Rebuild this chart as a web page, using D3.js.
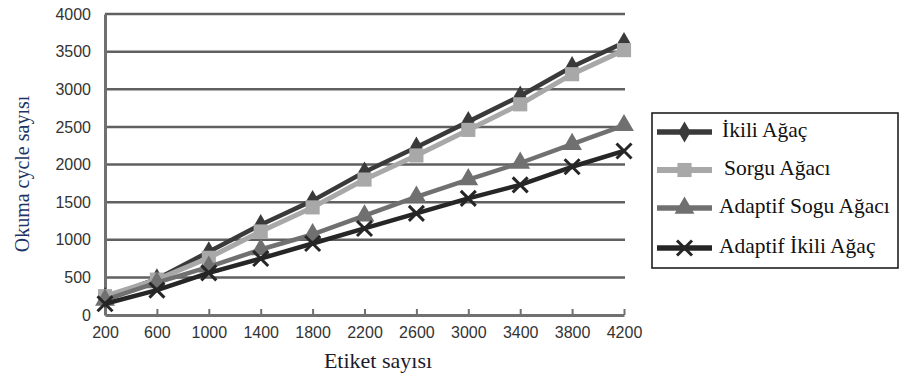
<!DOCTYPE html>
<html>
<head>
<meta charset="utf-8">
<script src="https://cdn.jsdelivr.net/npm/d3@7"></script>
<style>
  html, body { margin: 0; padding: 0; background: #fff; }
  svg { display: block; }
  .serif { font-family: "Liberation Serif", "Times New Roman", Times, serif; }
  .sans { font-family: "Liberation Sans", Arial, Helvetica, sans-serif; }
</style>
</head>
<body>
<svg id="chart" width="904" height="380"></svg>
<script>
// Tag counts on the x axis
const categories = [200, 600, 1000, 1400, 1800, 2200, 2600, 3000, 3400, 3800, 4200];
const yTicks = [0, 500, 1000, 1500, 2000, 2500, 3000, 3500, 4000];

// Read cycle counts per algorithm
const ikiliAgac        = [230, 480, 840, 1200, 1520, 1900, 2230, 2570, 2910, 3300, 3620];
const sorguAgaci       = [250, 470, 760, 1110, 1430, 1800, 2120, 2460, 2800, 3200, 3520];
const adaptifSoguAgaci = [200, 430, 640, 870, 1070, 1320, 1570, 1800, 2020, 2270, 2520];
const adaptifIkiliAgac = [150, 330, 560, 750, 950, 1150, 1350, 1550, 1730, 1970, 2180];

const seriesNames = ["İkili Ağaç", "Sorgu Ağacı", "Adaptif Sogu Ağacı", "Adaptif İkili Ağaç"];

const series = [
  { name: seriesNames[0], values: ikiliAgac,        color: "#3a3a3a", width: 4.5, marker: "diamond" },
  { name: seriesNames[1], values: sorguAgaci,       color: "#a8a8a8", width: 5,   marker: "square" },
  { name: seriesNames[2], values: adaptifSoguAgaci, color: "#707070", width: 4.5, marker: "triangle" },
  { name: seriesNames[3], values: adaptifIkiliAgac, color: "#262626", width: 4.5, marker: "cross" }
];

const svg = d3.select("#chart");
const plotLeft = 105, plotRight = 624, plotTop = 14, plotBottom = 315;

const x = d3.scalePoint().domain(categories).range([plotLeft, plotRight]).padding(0);
const y = d3.scaleLinear().domain([0, 4000]).range([plotBottom, plotTop]);

// Horizontal gridlines
svg.append("g")
  .selectAll("line")
  .data(yTicks.filter(d => d > 0))
  .join("line")
  .attr("x1", plotLeft).attr("x2", plotRight + 1)
  .attr("y1", d => y(d)).attr("y2", d => y(d))
  .attr("stroke", "#606060").attr("stroke-width", 2.5);

// Y axis
const yAxis = svg.append("g")
  .attr("transform", `translate(${plotLeft},0)`)
  .call(d3.axisLeft(y).tickValues(yTicks).tickFormat(d3.format("d")).tickSize(0).tickPadding(14));
yAxis.attr("font-family", null).attr("font-size", null);
yAxis.select(".domain").attr("stroke", "#707070").attr("stroke-width", 3);
yAxis.selectAll("text")
  .attr("class", "sans").style("font-size", "16px").attr("fill", "#333");

// X axis
const xAxis = svg.append("g")
  .attr("transform", `translate(0,${plotBottom})`)
  .call(d3.axisBottom(x).tickSize(6).tickSizeOuter(0).tickPadding(6));
xAxis.attr("font-family", null).attr("font-size", null);
xAxis.select(".domain").attr("stroke", "#707070").attr("stroke-width", 3);
xAxis.selectAll(".tick line").attr("stroke", "#707070").attr("stroke-width", 2)
  .attr("y1", -6).attr("y2", 0);
xAxis.selectAll("text")
  .attr("class", "sans").style("font-size", "16px").attr("fill", "#333");

// Axis titles
svg.append("text")
  .attr("class", "serif")
  .attr("x", 378).attr("y", 368)
  .attr("text-anchor", "middle")
  .style("font-size", "22px")
  .attr("fill", "#1b1b2e")
  .text("Etiket sayısı");

svg.append("text")
  .attr("class", "serif")
  .attr("transform", "translate(29,174) rotate(-90)")
  .attr("text-anchor", "middle")
  .style("font-size", "20px")
  .attr("fill", "#1c3566")
  .text("Okuma cycle sayısı");

// Marker shapes
function markerPath(type) {
  switch (type) {
    case "diamond": return d3.symbol(d3.symbolDiamond, 130)();
    case "square": return d3.symbol(d3.symbolSquare, 200)();
    case "triangle": return d3.symbol(d3.symbolTriangle, 170)();
    default: return null;
  }
}

function drawMarker(g, s, cx, cy) {
  if (s.marker === "cross") {
    const r = 7.5;
    g.append("path")
      .attr("d", `M${cx - r},${cy - r}L${cx + r},${cy + r}M${cx - r},${cy + r}L${cx + r},${cy - r}`)
      .attr("stroke", s.color).attr("stroke-width", 3).attr("fill", "none");
  } else {
    g.append("path")
      .attr("d", markerPath(s.marker))
      .attr("transform", `translate(${cx},${cy})`)
      .attr("fill", s.color);
  }
}

const line = d3.line().x((d, i) => x(categories[i])).y(d => y(d));

series.forEach(s => {
  const g = svg.append("g");
  g.append("path")
    .datum(s.values)
    .attr("d", line)
    .attr("fill", "none")
    .attr("stroke", s.color)
    .attr("stroke-width", s.width)
    .attr("stroke-linejoin", "round");
  s.values.forEach((v, i) => drawMarker(g, s, x(categories[i]), y(v)));
});

// Legend
const legend = svg.append("g");
legend.append("rect")
  .attr("x", 652).attr("y", 113).attr("width", 246).attr("height", 155)
  .attr("fill", "#fff").attr("stroke", "#111").attr("stroke-width", 1.5);

const legendY = [132, 170, 208, 248];
const legendTextX = [722, 724, 719, 719];
series.forEach((s, i) => {
  const cy = legendY[i];
  legend.append("line")
    .attr("x1", 657).attr("x2", 712).attr("y1", cy).attr("y2", cy)
    .attr("stroke", s.color).attr("stroke-width", s.width + 1);
  drawMarker(legend, s, 684.5, cy);
  legend.append("text")
    .attr("class", "serif")
    .attr("x", legendTextX[i]).attr("y", cy + 5)
    .style("font-size", "21.5px")
    .attr("fill", "#111")
    .text(s.name);
});
</script>
</body>
</html>
